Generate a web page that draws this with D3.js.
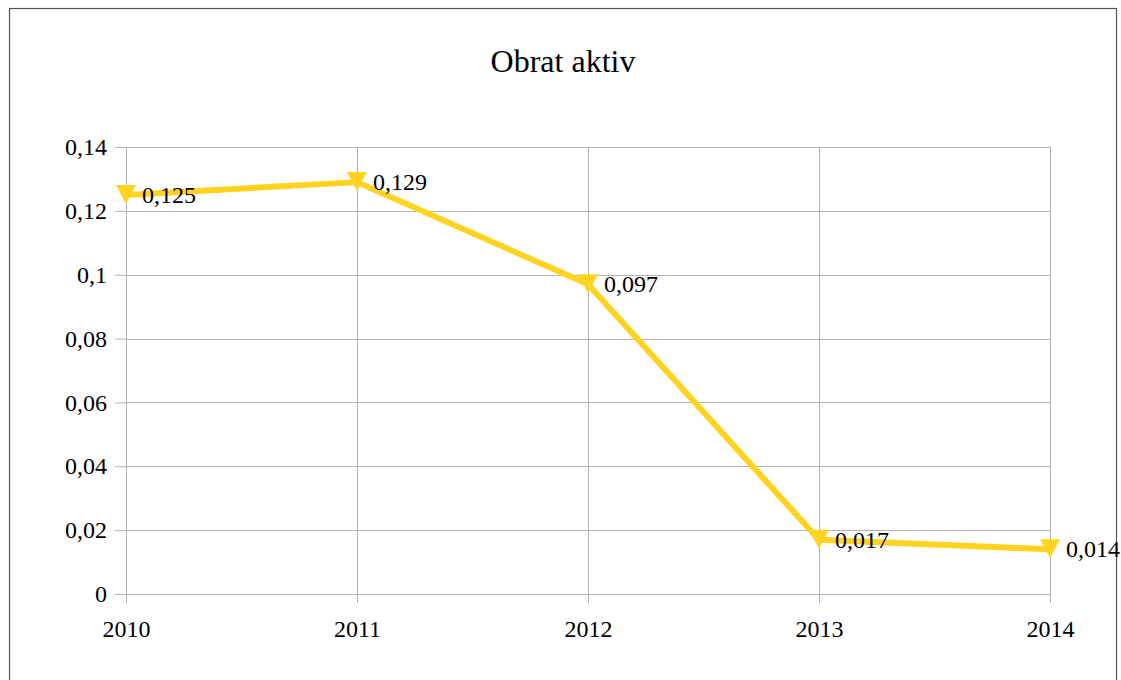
<!DOCTYPE html>
<html>
<head>
<meta charset="utf-8">
<script src="https://cdn.jsdelivr.net/npm/d3@7"></script>
<style>
  html, body { margin: 0; padding: 0; background: #fff; }
  svg { display: block; }
  svg text { font-family: "Liberation Serif", "Times New Roman", serif; }
</style>
</head>
<body>
<svg id="chart" width="1121" height="680"></svg>
<script>
// Asset turnover by year
const years = ["2010", "2011", "2012", "2013", "2014"];
const turnover = [0.125, 0.129, 0.097, 0.017, 0.014];
const valueLabels = ["0,125", "0,129", "0,097", "0,017", "0,014"];
const yTicks = [0, 0.02, 0.04, 0.06, 0.08, 0.1, 0.12, 0.14];
const yTickLabels = ["0", "0,02", "0,04", "0,06", "0,08", "0,1", "0,12", "0,14"];
const chartTitle = "Obrat aktiv";

const serif = "'Liberation Serif', 'Times New Roman', serif";
const svg = d3.select("#chart");
const plot = { left: 126, right: 1050, top: 147, bottom: 594 };
const gridColor = "#b3b3b3";
const lineColor = "#ffd320";

// outer frame
svg.append("rect")
  .attr("x", 9.5).attr("y", 8.5)
  .attr("width", 1107).attr("height", 700)
  .attr("fill", "none").attr("stroke", "#555").attr("stroke-width", 1.2);

svg.append("text")
  .attr("x", 563).attr("y", 72)
  .attr("text-anchor", "middle")
  .style("font-family", serif)
  .style("font-size", "32px")
  .attr("fill", "#000")
  .text(chartTitle);

const x = d3.scalePoint().domain(years).range([plot.left, plot.right]);
const y = d3.scaleLinear().domain([0, 0.14]).range([plot.bottom, plot.top]);

// horizontal gridlines
svg.append("g").selectAll("line").data(yTicks).join("line")
  .attr("x1", plot.left).attr("x2", plot.right)
  .attr("y1", d => Math.round(y(d)) + 0.5).attr("y2", d => Math.round(y(d)) + 0.5)
  .attr("stroke", gridColor).attr("stroke-width", 1);

// vertical gridlines
svg.append("g").selectAll("line").data(years).join("line")
  .attr("x1", d => Math.round(x(d)) + 0.5).attr("x2", d => Math.round(x(d)) + 0.5)
  .attr("y1", plot.top).attr("y2", plot.bottom)
  .attr("stroke", gridColor).attr("stroke-width", 1);

// y axis
const yAxis = d3.axisLeft(y)
  .tickValues(yTicks)
  .tickFormat((d, i) => yTickLabels[i])
  .tickSize(11)
  .tickPadding(8);
const gy = svg.append("g").attr("transform", `translate(${plot.left},0)`).call(yAxis);
gy.attr("font-family", null).attr("font-size", null);
gy.select(".domain").attr("stroke", gridColor);
gy.selectAll(".tick line").attr("stroke", gridColor);
gy.selectAll(".tick text").style("font-size", "24px").style("font-family", serif).attr("fill", "#000");

// x axis
const xAxis = d3.axisBottom(x).tickSize(9).tickPadding(17);
const gx = svg.append("g").attr("transform", `translate(0,${plot.bottom})`).call(xAxis);
gx.attr("font-family", null).attr("font-size", null);
gx.select(".domain").remove();
gx.selectAll(".tick line").attr("stroke", gridColor);
gx.selectAll(".tick text").style("font-size", "24px").style("font-family", serif).attr("fill", "#000");

// series line
const line = d3.line().x((d, i) => x(years[i])).y(d => y(d));
svg.append("path")
  .datum(turnover)
  .attr("d", line)
  .attr("fill", "none")
  .attr("stroke", lineColor)
  .attr("stroke-width", 6)
  .attr("stroke-linejoin", "round");

// downward triangle markers
const tri = "M-10,-10 L10,-10 L0,9 Z";
svg.append("g").selectAll("path").data(turnover).join("path")
  .attr("transform", (d, i) => `translate(${x(years[i])},${y(d)})`)
  .attr("d", tri)
  .attr("fill", lineColor);

// value labels
svg.append("g").selectAll("text").data(turnover).join("text")
  .attr("x", (d, i) => x(years[i]) + 16)
  .attr("y", d => y(d) + 8)
  .style("font-family", serif)
  .style("font-size", "24px")
  .attr("fill", "#000")
  .text((d, i) => valueLabels[i]);
</script>
</body>
</html>
